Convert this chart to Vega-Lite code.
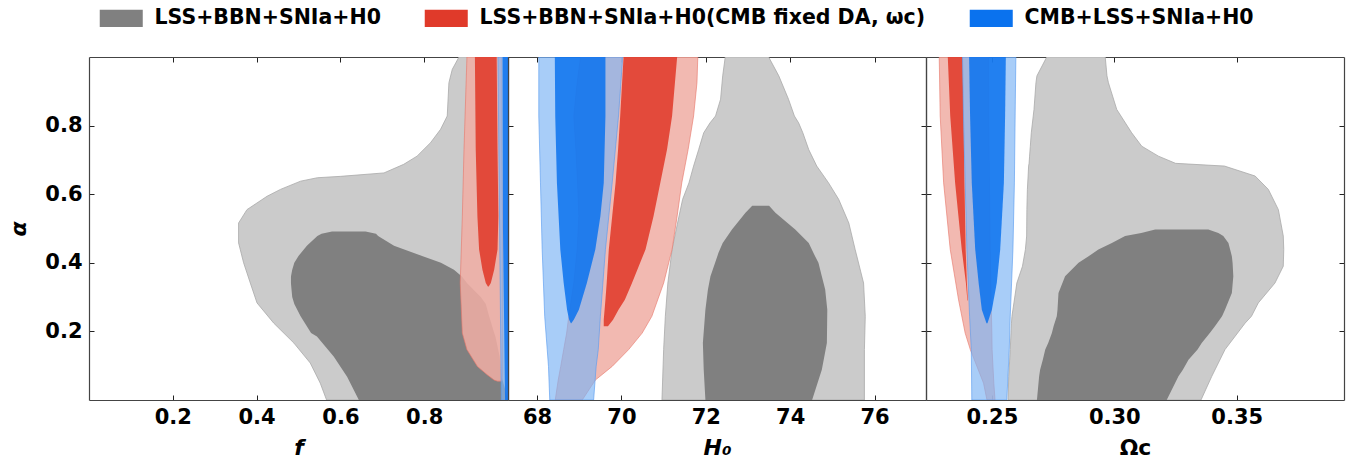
{
  "$schema": "https://vega.github.io/schema/vega-lite/v6.json",
  "padding": {"left": 7, "top": 8, "right": 5, "bottom": 0},
  "background": "white",
  "spacing": 0,
  "bounds": "flush",
  "config": {
    "font": "DejaVu Sans",
    "view": {"stroke": null},
    "axis": {"labelFont": "DejaVu Sans", "labelFontWeight": "bold", "labelFontSize": 21, "labelColor": "#000", "titleFont": "DejaVu Sans", "titleFontWeight": "bold", "titleFontStyle": "italic", "titleFontSize": 22, "titleColor": "#000", "tickSize": -5, "tickColor": "#222", "tickWidth": 1, "domainColor": "#444", "domainWidth": 1.2, "grid": false, "labelPadding": 11, "titlePadding": 10}
  },
  "data": {"values": [
    {"panel":"f","contour":"g95","alpha":1.0,"lo":0.883,"hi":1.0},
    {"panel":"f","contour":"g95","alpha":0.964,"lo":0.867,"hi":1.0},
    {"panel":"f","contour":"g95","alpha":0.925,"lo":0.859,"hi":1.0},
    {"panel":"f","contour":"g95","alpha":0.828,"lo":0.855,"hi":1.0},
    {"panel":"f","contour":"g95","alpha":0.789,"lo":0.839,"hi":1.0},
    {"panel":"f","contour":"g95","alpha":0.75,"lo":0.815,"hi":1.0},
    {"panel":"f","contour":"g95","alpha":0.711,"lo":0.783,"hi":1.0},
    {"panel":"f","contour":"g95","alpha":0.687,"lo":0.751,"hi":1.0},
    {"panel":"f","contour":"g95","alpha":0.662,"lo":0.704,"hi":1.0},
    {"panel":"f","contour":"g95","alpha":0.652,"lo":0.6,"hi":1.0},
    {"panel":"f","contour":"g95","alpha":0.648,"lo":0.545,"hi":1.0},
    {"panel":"f","contour":"g95","alpha":0.638,"lo":0.505,"hi":1.0},
    {"panel":"f","contour":"g95","alpha":0.614,"lo":0.457,"hi":1.0},
    {"panel":"f","contour":"g95","alpha":0.594,"lo":0.425,"hi":1.0},
    {"panel":"f","contour":"g95","alpha":0.555,"lo":0.377,"hi":1.0},
    {"panel":"f","contour":"g95","alpha":0.516,"lo":0.357,"hi":1.0},
    {"panel":"f","contour":"g95","alpha":0.458,"lo":0.357,"hi":1.0},
    {"panel":"f","contour":"g95","alpha":0.4,"lo":0.369,"hi":1.0},
    {"panel":"f","contour":"g95","alpha":0.341,"lo":0.385,"hi":1.0},
    {"panel":"f","contour":"g95","alpha":0.283,"lo":0.401,"hi":1.0},
    {"panel":"f","contour":"g95","alpha":0.224,"lo":0.441,"hi":1.0},
    {"panel":"f","contour":"g95","alpha":0.166,"lo":0.489,"hi":1.0},
    {"panel":"f","contour":"g95","alpha":0.108,"lo":0.528,"hi":1.0},
    {"panel":"f","contour":"g95","alpha":0.049,"lo":0.552,"hi":1.0},
    {"panel":"f","contour":"g95","alpha":0.0,"lo":0.567,"hi":1.0},
    {"panel":"f","contour":"g68","alpha":0.491,"lo":0.58,"hi":0.66},
    {"panel":"f","contour":"g68","alpha":0.485,"lo":0.555,"hi":0.685},
    {"panel":"f","contour":"g68","alpha":0.478,"lo":0.545,"hi":0.69},
    {"panel":"f","contour":"g68","alpha":0.45,"lo":0.52,"hi":0.728},
    {"panel":"f","contour":"g68","alpha":0.42,"lo":0.5,"hi":0.795},
    {"panel":"f","contour":"g68","alpha":0.4,"lo":0.49,"hi":0.84},
    {"panel":"f","contour":"g68","alpha":0.38,"lo":0.485,"hi":0.871},
    {"panel":"f","contour":"g68","alpha":0.36,"lo":0.482,"hi":0.89},
    {"panel":"f","contour":"g68","alpha":0.34,"lo":0.482,"hi":0.903},
    {"panel":"f","contour":"g68","alpha":0.3,"lo":0.485,"hi":0.935},
    {"panel":"f","contour":"g68","alpha":0.28,"lo":0.49,"hi":0.947},
    {"panel":"f","contour":"g68","alpha":0.244,"lo":0.505,"hi":0.955},
    {"panel":"f","contour":"g68","alpha":0.195,"lo":0.53,"hi":0.967},
    {"panel":"f","contour":"g68","alpha":0.185,"lo":0.544,"hi":0.97},
    {"panel":"f","contour":"g68","alpha":0.127,"lo":0.584,"hi":0.98},
    {"panel":"f","contour":"g68","alpha":0.068,"lo":0.616,"hi":0.985},
    {"panel":"f","contour":"g68","alpha":0.0,"lo":0.644,"hi":1.0},
    {"panel":"f","contour":"r95","alpha":1.0,"lo":0.902,"hi":0.985},
    {"panel":"f","contour":"r95","alpha":0.73,"lo":0.895,"hi":0.985},
    {"panel":"f","contour":"r95","alpha":0.536,"lo":0.891,"hi":0.987},
    {"panel":"f","contour":"r95","alpha":0.341,"lo":0.886,"hi":0.987},
    {"panel":"f","contour":"r95","alpha":0.195,"lo":0.891,"hi":0.987},
    {"panel":"f","contour":"r95","alpha":0.147,"lo":0.902,"hi":0.987},
    {"panel":"f","contour":"r95","alpha":0.098,"lo":0.927,"hi":0.987},
    {"panel":"f","contour":"r95","alpha":0.073,"lo":0.951,"hi":0.987},
    {"panel":"f","contour":"r95","alpha":0.058,"lo":0.967,"hi":0.986},
    {"panel":"f","contour":"r95","alpha":0.055,"lo":0.975,"hi":0.985},
    {"panel":"f","contour":"r68","alpha":1.0,"lo":0.921,"hi":0.973},
    {"panel":"f","contour":"r68","alpha":0.73,"lo":0.923,"hi":0.975},
    {"panel":"f","contour":"r68","alpha":0.536,"lo":0.927,"hi":0.977},
    {"panel":"f","contour":"r68","alpha":0.439,"lo":0.931,"hi":0.975},
    {"panel":"f","contour":"r68","alpha":0.38,"lo":0.939,"hi":0.967},
    {"panel":"f","contour":"r68","alpha":0.341,"lo":0.947,"hi":0.959},
    {"panel":"f","contour":"r68","alpha":0.331,"lo":0.952,"hi":0.954},
    {"panel":"f","contour":"b95","alpha":1.0,"lo":0.976,"hi":1.0},
    {"panel":"f","contour":"b95","alpha":0.5,"lo":0.98,"hi":1.0},
    {"panel":"f","contour":"b95","alpha":0.0,"lo":0.984,"hi":1.0},
    {"panel":"f","contour":"b68","alpha":1.0,"lo":0.987,"hi":1.0},
    {"panel":"f","contour":"b68","alpha":0.5,"lo":0.988,"hi":1.0},
    {"panel":"f","contour":"b68","alpha":0.3,"lo":0.99,"hi":1.0},
    {"panel":"f","contour":"b68","alpha":0.0,"lo":0.993,"hi":1.0},

    {"panel":"H0","contour":"g95","alpha":1.0,"lo":72.46,"hi":73.49},
    {"panel":"H0","contour":"g95","alpha":0.945,"lo":72.4,"hi":73.73},
    {"panel":"H0","contour":"g95","alpha":0.877,"lo":72.35,"hi":73.96},
    {"panel":"H0","contour":"g95","alpha":0.828,"lo":72.23,"hi":74.1},
    {"panel":"H0","contour":"g95","alpha":0.808,"lo":72.1,"hi":74.2},
    {"panel":"H0","contour":"g95","alpha":0.779,"lo":71.95,"hi":74.3},
    {"panel":"H0","contour":"g95","alpha":0.73,"lo":71.83,"hi":74.44},
    {"panel":"H0","contour":"g95","alpha":0.682,"lo":71.71,"hi":74.63},
    {"panel":"H0","contour":"g95","alpha":0.633,"lo":71.6,"hi":74.91},
    {"panel":"H0","contour":"g95","alpha":0.585,"lo":71.45,"hi":75.15},
    {"panel":"H0","contour":"g95","alpha":0.516,"lo":71.33,"hi":75.39},
    {"panel":"H0","contour":"g95","alpha":0.439,"lo":71.2,"hi":75.54},
    {"panel":"H0","contour":"g95","alpha":0.341,"lo":71.1,"hi":75.74},
    {"panel":"H0","contour":"g95","alpha":0.244,"lo":71.04,"hi":75.78},
    {"panel":"H0","contour":"g95","alpha":0.147,"lo":71.0,"hi":75.76},
    {"panel":"H0","contour":"g95","alpha":0.0,"lo":70.96,"hi":75.76},
    {"panel":"H0","contour":"g68","alpha":0.566,"lo":73.1,"hi":73.5},
    {"panel":"H0","contour":"g68","alpha":0.546,"lo":72.94,"hi":73.65},
    {"panel":"H0","contour":"g68","alpha":0.497,"lo":72.62,"hi":74.12},
    {"panel":"H0","contour":"g68","alpha":0.458,"lo":72.4,"hi":74.44},
    {"panel":"H0","contour":"g68","alpha":0.429,"lo":72.3,"hi":74.55},
    {"panel":"H0","contour":"g68","alpha":0.4,"lo":72.22,"hi":74.67},
    {"panel":"H0","contour":"g68","alpha":0.361,"lo":72.11,"hi":74.75},
    {"panel":"H0","contour":"g68","alpha":0.322,"lo":72.05,"hi":74.83},
    {"panel":"H0","contour":"g68","alpha":0.263,"lo":71.99,"hi":74.88},
    {"panel":"H0","contour":"g68","alpha":0.166,"lo":71.93,"hi":74.87},
    {"panel":"H0","contour":"g68","alpha":0.088,"lo":71.95,"hi":74.75},
    {"panel":"H0","contour":"g68","alpha":0.0,"lo":71.99,"hi":74.52},
    {"panel":"H0","contour":"r95","alpha":1.0,"lo":69.03,"hi":71.81},
    {"panel":"H0","contour":"r95","alpha":0.925,"lo":68.95,"hi":71.79},
    {"panel":"H0","contour":"r95","alpha":0.828,"lo":68.87,"hi":71.71},
    {"panel":"H0","contour":"r95","alpha":0.73,"lo":68.92,"hi":71.58},
    {"panel":"H0","contour":"r95","alpha":0.633,"lo":68.96,"hi":71.43},
    {"panel":"H0","contour":"r95","alpha":0.536,"lo":68.99,"hi":71.32},
    {"panel":"H0","contour":"r95","alpha":0.439,"lo":68.95,"hi":71.2},
    {"panel":"H0","contour":"r95","alpha":0.341,"lo":68.87,"hi":71.0},
    {"panel":"H0","contour":"r95","alpha":0.244,"lo":68.75,"hi":70.72},
    {"panel":"H0","contour":"r95","alpha":0.195,"lo":68.7,"hi":70.49},
    {"panel":"H0","contour":"r95","alpha":0.147,"lo":68.63,"hi":70.17},
    {"panel":"H0","contour":"r95","alpha":0.098,"lo":68.56,"hi":69.78},
    {"panel":"H0","contour":"r95","alpha":0.058,"lo":68.5,"hi":69.38},
    {"panel":"H0","contour":"r95","alpha":0.0,"lo":68.43,"hi":69.07},
    {"panel":"H0","contour":"r68","alpha":1.0,"lo":70.05,"hi":71.32},
    {"panel":"H0","contour":"r68","alpha":0.828,"lo":69.97,"hi":71.2},
    {"panel":"H0","contour":"r68","alpha":0.73,"lo":69.92,"hi":71.08},
    {"panel":"H0","contour":"r68","alpha":0.633,"lo":69.86,"hi":70.92},
    {"panel":"H0","contour":"r68","alpha":0.536,"lo":69.78,"hi":70.76},
    {"panel":"H0","contour":"r68","alpha":0.439,"lo":69.7,"hi":70.57},
    {"panel":"H0","contour":"r68","alpha":0.341,"lo":69.65,"hi":70.25},
    {"panel":"H0","contour":"r68","alpha":0.292,"lo":69.62,"hi":70.08},
    {"panel":"H0","contour":"r68","alpha":0.263,"lo":69.6,"hi":69.93},
    {"panel":"H0","contour":"r68","alpha":0.234,"lo":69.58,"hi":69.8},
    {"panel":"H0","contour":"r68","alpha":0.215,"lo":69.58,"hi":69.68},
    {"panel":"H0","contour":"b95","alpha":1.0,"lo":68.04,"hi":70.03},
    {"panel":"H0","contour":"b95","alpha":0.828,"lo":68.04,"hi":69.93},
    {"panel":"H0","contour":"b95","alpha":0.633,"lo":68.08,"hi":69.78},
    {"panel":"H0","contour":"b95","alpha":0.439,"lo":68.12,"hi":69.62},
    {"panel":"H0","contour":"b95","alpha":0.244,"lo":68.18,"hi":69.5},
    {"panel":"H0","contour":"b95","alpha":0.147,"lo":68.24,"hi":69.45},
    {"panel":"H0","contour":"b95","alpha":0.098,"lo":68.27,"hi":69.4},
    {"panel":"H0","contour":"b95","alpha":0.0,"lo":68.3,"hi":69.34},
    {"panel":"H0","contour":"b68","alpha":1.0,"lo":68.42,"hi":69.62},
    {"panel":"H0","contour":"b68","alpha":0.828,"lo":68.43,"hi":69.62},
    {"panel":"H0","contour":"b68","alpha":0.633,"lo":68.47,"hi":69.58},
    {"panel":"H0","contour":"b68","alpha":0.536,"lo":68.51,"hi":69.5},
    {"panel":"H0","contour":"b68","alpha":0.439,"lo":68.55,"hi":69.38},
    {"panel":"H0","contour":"b68","alpha":0.341,"lo":68.63,"hi":69.18},
    {"panel":"H0","contour":"b68","alpha":0.263,"lo":68.71,"hi":68.99},
    {"panel":"H0","contour":"b68","alpha":0.234,"lo":68.76,"hi":68.87},
    {"panel":"H0","contour":"b68","alpha":0.224,"lo":68.8,"hi":68.81},

    {"panel":"Oc","contour":"g95","alpha":1.0,"lo":0.2724,"hi":0.2963},
    {"panel":"Oc","contour":"g95","alpha":0.945,"lo":0.2684,"hi":0.297},
    {"panel":"Oc","contour":"g95","alpha":0.925,"lo":0.268,"hi":0.2976},
    {"panel":"Oc","contour":"g95","alpha":0.847,"lo":0.2672,"hi":0.301},
    {"panel":"Oc","contour":"g95","alpha":0.779,"lo":0.2661,"hi":0.3071},
    {"panel":"Oc","contour":"g95","alpha":0.74,"lo":0.2657,"hi":0.3112},
    {"panel":"Oc","contour":"g95","alpha":0.711,"lo":0.2654,"hi":0.318},
    {"panel":"Oc","contour":"g95","alpha":0.69,"lo":0.2652,"hi":0.325},
    {"panel":"Oc","contour":"g95","alpha":0.682,"lo":0.265,"hi":0.345},
    {"panel":"Oc","contour":"g95","alpha":0.653,"lo":0.2648,"hi":0.3575},
    {"panel":"Oc","contour":"g95","alpha":0.614,"lo":0.2645,"hi":0.3629},
    {"panel":"Oc","contour":"g95","alpha":0.555,"lo":0.2643,"hi":0.367},
    {"panel":"Oc","contour":"g95","alpha":0.478,"lo":0.2642,"hi":0.369},
    {"panel":"Oc","contour":"g95","alpha":0.439,"lo":0.2637,"hi":0.3692},
    {"panel":"Oc","contour":"g95","alpha":0.39,"lo":0.2625,"hi":0.369},
    {"panel":"Oc","contour":"g95","alpha":0.341,"lo":0.2602,"hi":0.3656},
    {"panel":"Oc","contour":"g95","alpha":0.283,"lo":0.259,"hi":0.3588},
    {"panel":"Oc","contour":"g95","alpha":0.244,"lo":0.2582,"hi":0.356},
    {"panel":"Oc","contour":"g95","alpha":0.224,"lo":0.258,"hi":0.3534},
    {"panel":"Oc","contour":"g95","alpha":0.147,"lo":0.2575,"hi":0.3452},
    {"panel":"Oc","contour":"g95","alpha":0.069,"lo":0.2569,"hi":0.3398},
    {"panel":"Oc","contour":"g95","alpha":0.0,"lo":0.2566,"hi":0.3354},
    {"panel":"Oc","contour":"g68","alpha":0.497,"lo":0.3167,"hi":0.3384},
    {"panel":"Oc","contour":"g68","alpha":0.487,"lo":0.311,"hi":0.3425},
    {"panel":"Oc","contour":"g68","alpha":0.478,"lo":0.3044,"hi":0.3445},
    {"panel":"Oc","contour":"g68","alpha":0.458,"lo":0.299,"hi":0.3466},
    {"panel":"Oc","contour":"g68","alpha":0.439,"lo":0.2935,"hi":0.3473},
    {"panel":"Oc","contour":"g68","alpha":0.419,"lo":0.2895,"hi":0.348},
    {"panel":"Oc","contour":"g68","alpha":0.4,"lo":0.2854,"hi":0.3483},
    {"panel":"Oc","contour":"g68","alpha":0.361,"lo":0.2799,"hi":0.3486},
    {"panel":"Oc","contour":"g68","alpha":0.312,"lo":0.2772,"hi":0.348},
    {"panel":"Oc","contour":"g68","alpha":0.263,"lo":0.2768,"hi":0.3452},
    {"panel":"Oc","contour":"g68","alpha":0.244,"lo":0.2765,"hi":0.344},
    {"panel":"Oc","contour":"g68","alpha":0.215,"lo":0.2752,"hi":0.3411},
    {"panel":"Oc","contour":"g68","alpha":0.195,"lo":0.2745,"hi":0.339},
    {"panel":"Oc","contour":"g68","alpha":0.166,"lo":0.273,"hi":0.3357},
    {"panel":"Oc","contour":"g68","alpha":0.147,"lo":0.2718,"hi":0.334},
    {"panel":"Oc","contour":"g68","alpha":0.117,"lo":0.2708,"hi":0.3303},
    {"panel":"Oc","contour":"g68","alpha":0.088,"lo":0.2697,"hi":0.328},
    {"panel":"Oc","contour":"g68","alpha":0.069,"lo":0.2693,"hi":0.3262},
    {"panel":"Oc","contour":"g68","alpha":0.0,"lo":0.2684,"hi":0.3214},
    {"panel":"Oc","contour":"r95","alpha":1.0,"lo":0.2285,"hi":0.2486},
    {"panel":"Oc","contour":"r95","alpha":0.828,"lo":0.2289,"hi":0.2487},
    {"panel":"Oc","contour":"r95","alpha":0.633,"lo":0.2303,"hi":0.249},
    {"panel":"Oc","contour":"r95","alpha":0.439,"lo":0.233,"hi":0.2493},
    {"panel":"Oc","contour":"r95","alpha":0.292,"lo":0.2364,"hi":0.2497},
    {"panel":"Oc","contour":"r95","alpha":0.195,"lo":0.2391,"hi":0.25},
    {"panel":"Oc","contour":"r95","alpha":0.147,"lo":0.2412,"hi":0.2501},
    {"panel":"Oc","contour":"r95","alpha":0.049,"lo":0.2466,"hi":0.2508},
    {"panel":"Oc","contour":"r95","alpha":0.0,"lo":0.248,"hi":0.2513},
    {"panel":"Oc","contour":"r68","alpha":1.0,"lo":0.232,"hi":0.238},
    {"panel":"Oc","contour":"r68","alpha":0.828,"lo":0.233,"hi":0.2384},
    {"panel":"Oc","contour":"r68","alpha":0.633,"lo":0.235,"hi":0.2388},
    {"panel":"Oc","contour":"r68","alpha":0.439,"lo":0.2377,"hi":0.2393},
    {"panel":"Oc","contour":"r68","alpha":0.341,"lo":0.2394,"hi":0.2398},
    {"panel":"Oc","contour":"r68","alpha":0.29,"lo":0.24,"hi":0.2402},
    {"panel":"Oc","contour":"b95","alpha":1.0,"lo":0.238,"hi":0.2598},
    {"panel":"Oc","contour":"b95","alpha":0.828,"lo":0.2384,"hi":0.2595},
    {"panel":"Oc","contour":"b95","alpha":0.633,"lo":0.2391,"hi":0.2592},
    {"panel":"Oc","contour":"b95","alpha":0.439,"lo":0.2398,"hi":0.2586},
    {"panel":"Oc","contour":"b95","alpha":0.244,"lo":0.2409,"hi":0.2575},
    {"panel":"Oc","contour":"b95","alpha":0.147,"lo":0.2416,"hi":0.2571},
    {"panel":"Oc","contour":"b95","alpha":0.0,"lo":0.2418,"hi":0.2561},
    {"panel":"Oc","contour":"b68","alpha":1.0,"lo":0.2407,"hi":0.2557},
    {"panel":"Oc","contour":"b68","alpha":0.828,"lo":0.2411,"hi":0.2554},
    {"panel":"Oc","contour":"b68","alpha":0.633,"lo":0.2418,"hi":0.2549},
    {"panel":"Oc","contour":"b68","alpha":0.439,"lo":0.2432,"hi":0.2534},
    {"panel":"Oc","contour":"b68","alpha":0.341,"lo":0.2446,"hi":0.252},
    {"panel":"Oc","contour":"b68","alpha":0.263,"lo":0.2459,"hi":0.25},
    {"panel":"Oc","contour":"b68","alpha":0.224,"lo":0.2478,"hi":0.2482}
  ]},
  "hconcat": [
    {
      "width": 419, "height": 343,
      "transform": [{"filter": "datum.panel == 'f'"}],
      "resolve": {"axis": {"x": "independent", "y": "independent"}},
      "layer": [
        {"transform": [{"filter": "datum.contour == 'g95'"}],
         "mark": {"type": "area", "orient": "horizontal", "clip": true, "stroke": "#aaaaaa", "strokeWidth": 0.8},
         "encoding": {
           "y": {"field": "alpha", "type": "quantitative", "scale": {"domain": [0, 1], "nice": false, "zero": false}, "axis": {"orient": "left", "values": [0.2, 0.4, 0.6, 0.8], "format": ".1f", "title": "α", "labelPadding": 12, "titlePadding": 14}},
           "x": {"field": "lo", "type": "quantitative", "stack": null, "scale": {"domain": [0, 1], "nice": false, "zero": false}, "axis": {"orient": "bottom", "values": [0.2, 0.4, 0.6, 0.8], "format": ".1f", "title": "f"}},
           "x2": {"field": "hi"},
           "fill": {"field": "contour", "type": "nominal", "scale": {"domain": ["g95", "g68", "r95", "r68", "b95", "b68"], "range": ["#cbcbcb", "#808080", "#f0ada4", "#e03a2a", "#7db4f5", "#0a72ee"]},
             "legend": {"orient": "none", "legendX": 22, "legendY": -49, "direction": "horizontal", "columns": 3, "values": ["g68", "r68", "b68"], "title": null,
               "labelExpr": "datum.value == 'g68' ? 'LSS+BBN+SNIa+H0' : (datum.value == 'r68' ? 'LSS+BBN+SNIa+H0(CMB fixed DA, ωc)' : 'CMB+LSS+SNIa+H0')",
               "symbolType": "M-2.5,-1H2.5V1H-2.5Z", "symbolSize": 296, "symbolOpacity": 1, "symbolStrokeWidth": 0, "labelFont": "DejaVu Sans", "labelFontWeight": "bold", "labelFontSize": 20.5, "labelColor": "#000", "labelOffset": 23, "columnPadding": 43, "labelLimit": 1000}}
         }},
        {"transform": [{"filter": "datum.contour == 'g68'"}],
         "mark": {"type": "area", "orient": "horizontal", "clip": true},
         "encoding": {
           "y": {"field": "alpha", "type": "quantitative", "scale": {"domain": [0, 1], "nice": false, "zero": false}, "axis": null},
           "x": {"field": "lo", "type": "quantitative", "stack": null, "scale": {"domain": [0, 1], "nice": false, "zero": false}, "axis": null},
           "x2": {"field": "hi"},
           "fill": {"field": "contour", "type": "nominal", "scale": {"domain": ["g95", "g68", "r95", "r68", "b95", "b68"], "range": ["#cbcbcb", "#808080", "#f0ada4", "#e03a2a", "#7db4f5", "#0a72ee"]}, "legend": null}
         }},
        {"transform": [{"filter": "datum.contour == 'r95'"}],
         "mark": {"type": "area", "orient": "horizontal", "clip": true, "fillOpacity": 0.86, "stroke": "#e8796c", "strokeWidth": 0.8, "strokeOpacity": 0.8},
         "encoding": {
           "y": {"field": "alpha", "type": "quantitative", "scale": {"domain": [0, 1], "nice": false, "zero": false}, "axis": null},
           "x": {"field": "lo", "type": "quantitative", "stack": null, "scale": {"domain": [0, 1], "nice": false, "zero": false}, "axis": null},
           "x2": {"field": "hi"},
           "fill": {"field": "contour", "type": "nominal", "scale": {"domain": ["g95", "g68", "r95", "r68", "b95", "b68"], "range": ["#cbcbcb", "#808080", "#f0ada4", "#e03a2a", "#7db4f5", "#0a72ee"]}, "legend": null}
         }},
        {"transform": [{"filter": "datum.contour == 'r68'"}],
         "mark": {"type": "area", "orient": "horizontal", "clip": true, "fillOpacity": 0.88},
         "encoding": {
           "y": {"field": "alpha", "type": "quantitative", "scale": {"domain": [0, 1], "nice": false, "zero": false}, "axis": null},
           "x": {"field": "lo", "type": "quantitative", "stack": null, "scale": {"domain": [0, 1], "nice": false, "zero": false}, "axis": null},
           "x2": {"field": "hi"},
           "fill": {"field": "contour", "type": "nominal", "scale": {"domain": ["g95", "g68", "r95", "r68", "b95", "b68"], "range": ["#cbcbcb", "#808080", "#f0ada4", "#e03a2a", "#7db4f5", "#0a72ee"]}, "legend": null}
         }},
        {"transform": [{"filter": "datum.contour == 'b95'"}],
         "mark": {"type": "area", "orient": "horizontal", "clip": true, "fillOpacity": 0.67, "stroke": "#5a9cf0", "strokeWidth": 0.8, "strokeOpacity": 0.8},
         "encoding": {
           "y": {"field": "alpha", "type": "quantitative", "scale": {"domain": [0, 1], "nice": false, "zero": false}, "axis": null},
           "x": {"field": "lo", "type": "quantitative", "stack": null, "scale": {"domain": [0, 1], "nice": false, "zero": false}, "axis": null},
           "x2": {"field": "hi"},
           "fill": {"field": "contour", "type": "nominal", "scale": {"domain": ["g95", "g68", "r95", "r68", "b95", "b68"], "range": ["#cbcbcb", "#808080", "#f0ada4", "#e03a2a", "#7db4f5", "#0a72ee"]}, "legend": null}
         }},
        {"transform": [{"filter": "datum.contour == 'b68'"}],
         "mark": {"type": "area", "orient": "horizontal", "clip": true, "fillOpacity": 0.85},
         "encoding": {
           "y": {"field": "alpha", "type": "quantitative", "scale": {"domain": [0, 1], "nice": false, "zero": false}, "axis": {"orient": "right", "values": [0.2, 0.4, 0.6, 0.8], "labels": false, "title": null}},
           "x": {"field": "lo", "type": "quantitative", "stack": null, "scale": {"domain": [0, 1], "nice": false, "zero": false}, "axis": {"orient": "top", "values": [0.2, 0.4, 0.6, 0.8], "labels": false, "title": null}},
           "x2": {"field": "hi"},
           "fill": {"field": "contour", "type": "nominal", "scale": {"domain": ["g95", "g68", "r95", "r68", "b95", "b68"], "range": ["#cbcbcb", "#808080", "#f0ada4", "#e03a2a", "#7db4f5", "#0a72ee"]}, "legend": null}
         }}
      ]
    },
    {
      "width": 418, "height": 343,
      "transform": [{"filter": "datum.panel == 'H0'"}],
      "resolve": {"axis": {"x": "independent", "y": "independent"}},
      "layer": [
        {"transform": [{"filter": "datum.contour == 'g95'"}],
         "mark": {"type": "area", "orient": "horizontal", "clip": true, "stroke": "#aaaaaa", "strokeWidth": 0.8},
         "encoding": {
           "y": {"field": "alpha", "type": "quantitative", "scale": {"domain": [0, 1], "nice": false, "zero": false}, "axis": {"orient": "left", "values": [0.2, 0.4, 0.6, 0.8], "labels": false, "title": null}},
           "x": {"field": "lo", "type": "quantitative", "stack": null, "scale": {"domain": [67.31, 77.22], "nice": false, "zero": false}, "axis": {"orient": "bottom", "values": [68, 70, 72, 74, 76], "format": "d", "title": "H₀"}},
           "x2": {"field": "hi"},
           "fill": {"field": "contour", "type": "nominal", "scale": {"domain": ["g95", "g68", "r95", "r68", "b95", "b68"], "range": ["#cbcbcb", "#808080", "#f0ada4", "#e03a2a", "#7db4f5", "#0a72ee"]}, "legend": null}
         }},
        {"transform": [{"filter": "datum.contour == 'g68'"}],
         "mark": {"type": "area", "orient": "horizontal", "clip": true},
         "encoding": {
           "y": {"field": "alpha", "type": "quantitative", "scale": {"domain": [0, 1], "nice": false, "zero": false}, "axis": null},
           "x": {"field": "lo", "type": "quantitative", "stack": null, "scale": {"domain": [67.31, 77.22], "nice": false, "zero": false}, "axis": null},
           "x2": {"field": "hi"},
           "fill": {"field": "contour", "type": "nominal", "scale": {"domain": ["g95", "g68", "r95", "r68", "b95", "b68"], "range": ["#cbcbcb", "#808080", "#f0ada4", "#e03a2a", "#7db4f5", "#0a72ee"]}, "legend": null}
         }},
        {"transform": [{"filter": "datum.contour == 'r95'"}],
         "mark": {"type": "area", "orient": "horizontal", "clip": true, "fillOpacity": 0.86, "stroke": "#e8796c", "strokeWidth": 0.8, "strokeOpacity": 0.8},
         "encoding": {
           "y": {"field": "alpha", "type": "quantitative", "scale": {"domain": [0, 1], "nice": false, "zero": false}, "axis": null},
           "x": {"field": "lo", "type": "quantitative", "stack": null, "scale": {"domain": [67.31, 77.22], "nice": false, "zero": false}, "axis": null},
           "x2": {"field": "hi"},
           "fill": {"field": "contour", "type": "nominal", "scale": {"domain": ["g95", "g68", "r95", "r68", "b95", "b68"], "range": ["#cbcbcb", "#808080", "#f0ada4", "#e03a2a", "#7db4f5", "#0a72ee"]}, "legend": null}
         }},
        {"transform": [{"filter": "datum.contour == 'r68'"}],
         "mark": {"type": "area", "orient": "horizontal", "clip": true, "fillOpacity": 0.88},
         "encoding": {
           "y": {"field": "alpha", "type": "quantitative", "scale": {"domain": [0, 1], "nice": false, "zero": false}, "axis": null},
           "x": {"field": "lo", "type": "quantitative", "stack": null, "scale": {"domain": [67.31, 77.22], "nice": false, "zero": false}, "axis": null},
           "x2": {"field": "hi"},
           "fill": {"field": "contour", "type": "nominal", "scale": {"domain": ["g95", "g68", "r95", "r68", "b95", "b68"], "range": ["#cbcbcb", "#808080", "#f0ada4", "#e03a2a", "#7db4f5", "#0a72ee"]}, "legend": null}
         }},
        {"transform": [{"filter": "datum.contour == 'b95'"}],
         "mark": {"type": "area", "orient": "horizontal", "clip": true, "fillOpacity": 0.67, "stroke": "#5a9cf0", "strokeWidth": 0.8, "strokeOpacity": 0.8},
         "encoding": {
           "y": {"field": "alpha", "type": "quantitative", "scale": {"domain": [0, 1], "nice": false, "zero": false}, "axis": null},
           "x": {"field": "lo", "type": "quantitative", "stack": null, "scale": {"domain": [67.31, 77.22], "nice": false, "zero": false}, "axis": null},
           "x2": {"field": "hi"},
           "fill": {"field": "contour", "type": "nominal", "scale": {"domain": ["g95", "g68", "r95", "r68", "b95", "b68"], "range": ["#cbcbcb", "#808080", "#f0ada4", "#e03a2a", "#7db4f5", "#0a72ee"]}, "legend": null}
         }},
        {"transform": [{"filter": "datum.contour == 'b68'"}],
         "mark": {"type": "area", "orient": "horizontal", "clip": true, "fillOpacity": 0.85},
         "encoding": {
           "y": {"field": "alpha", "type": "quantitative", "scale": {"domain": [0, 1], "nice": false, "zero": false}, "axis": {"orient": "right", "values": [0.2, 0.4, 0.6, 0.8], "labels": false, "title": null}},
           "x": {"field": "lo", "type": "quantitative", "stack": null, "scale": {"domain": [67.31, 77.22], "nice": false, "zero": false}, "axis": {"orient": "top", "values": [68, 70, 72, 74, 76], "labels": false, "title": null}},
           "x2": {"field": "hi"},
           "fill": {"field": "contour", "type": "nominal", "scale": {"domain": ["g95", "g68", "r95", "r68", "b95", "b68"], "range": ["#cbcbcb", "#808080", "#f0ada4", "#e03a2a", "#7db4f5", "#0a72ee"]}, "legend": null}
         }}
      ]
    },
    {
      "width": 418, "height": 343,
      "transform": [{"filter": "datum.panel == 'Oc'"}],
      "resolve": {"axis": {"x": "independent", "y": "independent"}},
      "layer": [
        {"transform": [{"filter": "datum.contour == 'g95'"}],
         "mark": {"type": "area", "orient": "horizontal", "clip": true, "stroke": "#aaaaaa", "strokeWidth": 0.8},
         "encoding": {
           "y": {"field": "alpha", "type": "quantitative", "scale": {"domain": [0, 1], "nice": false, "zero": false}, "axis": {"orient": "left", "values": [0.2, 0.4, 0.6, 0.8], "labels": false, "title": null}},
           "x": {"field": "lo", "type": "quantitative", "stack": null, "scale": {"domain": [0.2231, 0.3938], "nice": false, "zero": false}, "axis": {"orient": "bottom", "values": [0.25, 0.3, 0.35], "format": ".2f", "title": "Ωc", "titleFontStyle": "normal"}},
           "x2": {"field": "hi"},
           "fill": {"field": "contour", "type": "nominal", "scale": {"domain": ["g95", "g68", "r95", "r68", "b95", "b68"], "range": ["#cbcbcb", "#808080", "#f0ada4", "#e03a2a", "#7db4f5", "#0a72ee"]}, "legend": null}
         }},
        {"transform": [{"filter": "datum.contour == 'g68'"}],
         "mark": {"type": "area", "orient": "horizontal", "clip": true},
         "encoding": {
           "y": {"field": "alpha", "type": "quantitative", "scale": {"domain": [0, 1], "nice": false, "zero": false}, "axis": null},
           "x": {"field": "lo", "type": "quantitative", "stack": null, "scale": {"domain": [0.2231, 0.3938], "nice": false, "zero": false}, "axis": null},
           "x2": {"field": "hi"},
           "fill": {"field": "contour", "type": "nominal", "scale": {"domain": ["g95", "g68", "r95", "r68", "b95", "b68"], "range": ["#cbcbcb", "#808080", "#f0ada4", "#e03a2a", "#7db4f5", "#0a72ee"]}, "legend": null}
         }},
        {"transform": [{"filter": "datum.contour == 'r95'"}],
         "mark": {"type": "area", "orient": "horizontal", "clip": true, "fillOpacity": 0.86, "stroke": "#e8796c", "strokeWidth": 0.8, "strokeOpacity": 0.8},
         "encoding": {
           "y": {"field": "alpha", "type": "quantitative", "scale": {"domain": [0, 1], "nice": false, "zero": false}, "axis": null},
           "x": {"field": "lo", "type": "quantitative", "stack": null, "scale": {"domain": [0.2231, 0.3938], "nice": false, "zero": false}, "axis": null},
           "x2": {"field": "hi"},
           "fill": {"field": "contour", "type": "nominal", "scale": {"domain": ["g95", "g68", "r95", "r68", "b95", "b68"], "range": ["#cbcbcb", "#808080", "#f0ada4", "#e03a2a", "#7db4f5", "#0a72ee"]}, "legend": null}
         }},
        {"transform": [{"filter": "datum.contour == 'r68'"}],
         "mark": {"type": "area", "orient": "horizontal", "clip": true, "fillOpacity": 0.88},
         "encoding": {
           "y": {"field": "alpha", "type": "quantitative", "scale": {"domain": [0, 1], "nice": false, "zero": false}, "axis": null},
           "x": {"field": "lo", "type": "quantitative", "stack": null, "scale": {"domain": [0.2231, 0.3938], "nice": false, "zero": false}, "axis": null},
           "x2": {"field": "hi"},
           "fill": {"field": "contour", "type": "nominal", "scale": {"domain": ["g95", "g68", "r95", "r68", "b95", "b68"], "range": ["#cbcbcb", "#808080", "#f0ada4", "#e03a2a", "#7db4f5", "#0a72ee"]}, "legend": null}
         }},
        {"transform": [{"filter": "datum.contour == 'b95'"}],
         "mark": {"type": "area", "orient": "horizontal", "clip": true, "fillOpacity": 0.67, "stroke": "#5a9cf0", "strokeWidth": 0.8, "strokeOpacity": 0.8},
         "encoding": {
           "y": {"field": "alpha", "type": "quantitative", "scale": {"domain": [0, 1], "nice": false, "zero": false}, "axis": null},
           "x": {"field": "lo", "type": "quantitative", "stack": null, "scale": {"domain": [0.2231, 0.3938], "nice": false, "zero": false}, "axis": null},
           "x2": {"field": "hi"},
           "fill": {"field": "contour", "type": "nominal", "scale": {"domain": ["g95", "g68", "r95", "r68", "b95", "b68"], "range": ["#cbcbcb", "#808080", "#f0ada4", "#e03a2a", "#7db4f5", "#0a72ee"]}, "legend": null}
         }},
        {"transform": [{"filter": "datum.contour == 'b68'"}],
         "mark": {"type": "area", "orient": "horizontal", "clip": true, "fillOpacity": 0.85},
         "encoding": {
           "y": {"field": "alpha", "type": "quantitative", "scale": {"domain": [0, 1], "nice": false, "zero": false}, "axis": {"orient": "right", "values": [0.2, 0.4, 0.6, 0.8], "labels": false, "title": null}},
           "x": {"field": "lo", "type": "quantitative", "stack": null, "scale": {"domain": [0.2231, 0.3938], "nice": false, "zero": false}, "axis": {"orient": "top", "values": [0.25, 0.3, 0.35], "labels": false, "title": null}},
           "x2": {"field": "hi"},
           "fill": {"field": "contour", "type": "nominal", "scale": {"domain": ["g95", "g68", "r95", "r68", "b95", "b68"], "range": ["#cbcbcb", "#808080", "#f0ada4", "#e03a2a", "#7db4f5", "#0a72ee"]}, "legend": null}
         }}
      ]
    }
  ]
}
